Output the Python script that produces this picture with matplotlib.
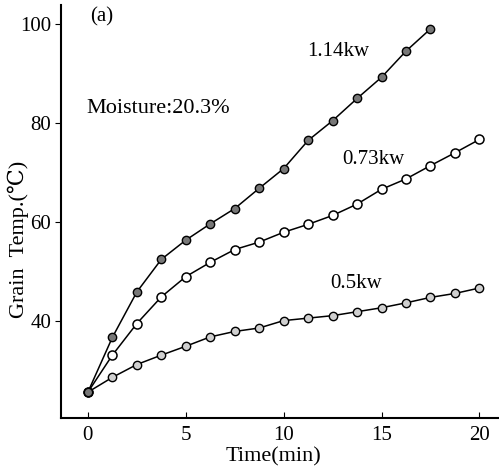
import matplotlib
matplotlib.use('Agg')
import matplotlib.pyplot as plt
import numpy as np

plt.rcParams['font.family'] = ['Liberation Serif', 'DejaVu Serif']

# time (min), readings every 1.25 min
t_all = [0, 1.25, 2.5, 3.75, 5, 6.25, 7.5, 8.75, 10, 11.25, 12.5,
         13.75, 15, 16.25, 17.5, 18.75, 20]

# grain temperature (C)
temp_114 = [25.5, 36.6, 45.8, 52.4, 56.3, 59.6, 62.7, 66.8, 70.8, 76.5,
            80.5, 85.0, 89.3, 94.6, 99.1]
temp_073 = [25.5, 33.0, 39.4, 44.8, 48.9, 51.8, 54.4, 55.9, 57.9, 59.5,
            61.3, 63.6, 66.6, 68.7, 71.4, 74.0, 76.7]
temp_05 = [25.5, 28.5, 31.1, 33.0, 34.8, 36.7, 37.8, 38.5, 40.0, 40.5,
           41.0, 41.8, 42.6, 43.6, 44.7, 45.5, 46.6]

fig = plt.figure(figsize=(4.99, 4.70), dpi=100)
ax = fig.add_axes([0.122, 0.111, 0.878, 0.879])

t114 = t_all[:len(temp_114)]
ax.plot(t_all, temp_05, '-', color='black', lw=1.1, marker='o', ms=6,
        mfc='#d0d0d0', mec='black', mew=1.0)
ax.plot(t_all, temp_073, '-', color='black', lw=1.1, marker='o', ms=6.5,
        mfc='white', mec='black', mew=1.1)
ax.plot(t114, temp_114, '-', color='black', lw=1.1, marker='o', ms=6,
        mfc='#777777', mec='black', mew=1.0)

ax.set_xlim(-1.38, 21.0)
ax.set_ylim(20.3, 104)
ax.set_xticks([0, 5, 10, 15, 20])
ax.set_yticks([40, 60, 80, 100])
ax.tick_params(axis='x', direction='in', length=4, labelsize=15, pad=6)
ax.tick_params(axis='y', direction='out', length=4, labelsize=15, pad=3)
ax.spines['top'].set_visible(False)
ax.spines['right'].set_visible(False)
ax.spines['left'].set_linewidth(1.5)
ax.spines['bottom'].set_linewidth(1.5)

ax.text(0.1, 101.5, '(a)', fontsize=15, va='center')
ax.text(-0.1, 83, 'Moisture:20.3%', fontsize=16, va='center')
ax.text(11.2, 94.5, '1.14kw', fontsize=15, va='center')
ax.text(13.0, 72.7, '0.73kw', fontsize=15, va='center')
ax.text(12.4, 47.5, '0.5kw', fontsize=15, va='center')

fig.text(0.036, 0.49, 'Grain  Temp.(℃)', rotation=90, fontsize=16,
         ha='center', va='center')
fig.text(0.548, 0.028, 'Time(min)', fontsize=16, ha='center', va='center')

fig.savefig('out.png', dpi=100)
